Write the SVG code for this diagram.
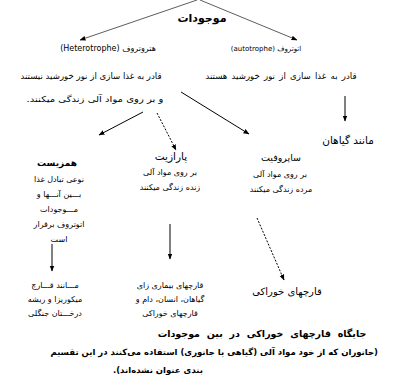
<svg xmlns="http://www.w3.org/2000/svg" width="393" height="380" viewBox="0 0 393 380">
<style>
text { font-family: "DejaVu Sans", "Noto Sans", sans-serif; fill: #000; text-anchor: middle; }
.t { font-size: 8px; }
.h { font-size: 11px; font-weight: bold; }
.m { font-size: 9.5px; }
.b { font-size: 9px; font-weight: bold; }
.cap { font-size: 8.5px; font-weight: bold; }
.l { text-anchor: start; }
.e { text-anchor: end; }
.c { stroke: #000; stroke-width: 1; fill: none; }
.g { stroke: #333; stroke-width: 0.8; }
.d { stroke-dasharray: 2 1.5; }
</style>
<defs>
<marker id="a" markerWidth="6" markerHeight="6" refX="5.5" refY="3" orient="auto" markerUnits="userSpaceOnUse">
<path d="M0,0.6 L6,3 L0,5.4 z" fill="#000"/>
</marker>
</defs>
<g id="connectors">
<path class="c g" d="M197,0 L80,40" marker-end="url(#a)"/>
<path class="c g" d="M200,0 L297,40" marker-end="url(#a)"/>
<path class="c" d="M345,96 L345,121" marker-end="url(#a)"/>
<path class="c" d="M143,112 L99,135" marker-end="url(#a)"/>
<path class="c d" d="M157,113 L176,150" marker-end="url(#a)"/>
<path class="c" d="M181,92 L249,134" marker-end="url(#a)"/>
<path class="c" d="M52,244 L52,271" marker-end="url(#a)"/>
<path class="c" d="M170,224 L170,259" marker-end="url(#a)"/>
<path class="c d" d="M257,218 L284,280" marker-end="url(#a)"/>
</g>
<g id="root"><text class="h" x="202" y="22">موجودات</text></g>
<g id="heterotroph">
<text class="t" x="108" y="51">(Heterotrophe) هتروتروف</text>
<text class="t" x="91" y="79" style="font-size:8.6px">قادر به غذا سازی از نور خورشید نیستند</text>
<text class="t" transform="translate(95,102) scale(1.2,1)" x="0" y="0" style="font-size:8.4px">و بر روی مواد آلی زندگی میکنند.&#x200F;</text>
</g>
<g id="autotroph">
<text class="t" x="266" y="51" style="font-size:7px">(autotrophe) اتوتروف</text>
<text class="t" x="281" y="79" style="font-size:8.6px;word-spacing:1.5px">قادر به غذا سازی از نور خورشید هستند</text>
</g>
<g id="plants"><text class="m" x="348" y="144" style="font-size:10.5px">مانند گیاهان</text></g>
<g id="commensal">
<text class="b" x="57" y="166">همزیست</text>
<text class="t" x="59" y="182">نوعی تبادل غذا</text>
<text class="t" x="59" y="197">بـــین آنـــها و</text>
<text class="t" x="59" y="212">مـــوجودات</text>
<text class="t" x="59" y="227">اتوتروف برقرار</text>
<text class="t" x="59" y="242">است</text>
</g>
<g id="parasite">
<text class="m" x="171" y="160" style="font-size:10.5px">پارازیت</text>
<text class="t" x="170" y="175">بر روی مواد آلی</text>
<text class="t" x="170" y="190">زنده زندگی میکنند</text>
</g>
<g id="saprophyte">
<text class="m" x="281" y="161">ساپروفیت</text>
<text class="t" x="280" y="177">بر روی مواد آلی</text>
<text class="t" x="281" y="192">مرده زندگی میکنند</text>
</g>
<g id="mycorrhiza">
<text class="t" x="55" y="288">مـــانند قـــارچ</text>
<text class="t" x="55" y="302">میکوریزا و ریشه</text>
<text class="t" x="55" y="316">درخـــتان جنگلی</text>
</g>
<g id="pathogens">
<text class="t" x="170" y="288">قارچهای بیماری زای</text>
<text class="t" x="170" y="302">گیاهان، انسان، دام و</text>
<text class="t" x="170" y="316">قارچهای خوراکی</text>
</g>
<g id="edible"><text class="m" x="287" y="295" style="font-size:10px">قارچهای خوراکی</text></g>
<g id="caption">
<text class="cap" x="262" y="337" style="font-size:9.5px;word-spacing:3.5px">جایگاه قارچهای خوراکی در بین موجودات</text>
<text class="cap e" x="378" y="355">&#x200F;(جانوران که از خود مواد آلی (گیاهی یا جانوری) استفاده می‌کنند در این تقسیم</text>
<text class="cap l" x="113" y="373">بندی عنوان نشده‌اند).&#x200F;</text>
</g>
</svg>
